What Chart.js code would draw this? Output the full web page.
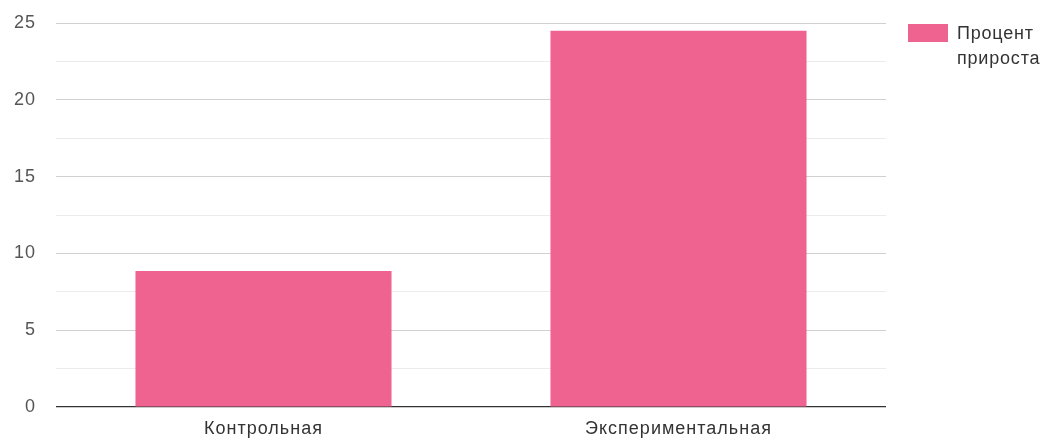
<!DOCTYPE html>
<html>
<head>
<meta charset="utf-8">
<script src="https://cdn.jsdelivr.net/npm/chart.js@4/dist/chart.umd.min.js"></script>
<style>
html,body{margin:0;padding:0;background:#fff;}
#wrap{width:1043px;height:441px;position:relative;}
</style>
</head>
<body>
<div id="wrap"><canvas id="c" width="1043" height="441"></canvas></div>
<script>
const categories = ['Контрольная', 'Экспериментальная'];
const seriesLabel = ['Процент', 'прироста'];
const seriesValues = [8.85, 24.5];
const yTickLabels = [0, 5, 10, 15, 20, 25];

const barColor = '#ef6391';
const FONT = '"Liberation Sans", Arial, sans-serif';

const spacingPlugin = {
  id: 'spacing',
  beforeDraw(chart) { chart.ctx.letterSpacing = '1px'; }
};

const legendPlugin = {
  id: 'sideLegend',
  afterDraw(chart) {
    const ctx = chart.ctx;
    ctx.save();
    ctx.letterSpacing = '0.8px';
    ctx.fillStyle = barColor;
    ctx.fillRect(908, 24, 40, 18);
    ctx.fillStyle = '#333';
    ctx.font = '18px ' + FONT;
    ctx.textBaseline = 'middle';
    ctx.textAlign = 'left';
    seriesLabel.forEach((t, i) => ctx.fillText(t, 957, 34 + i * 25));
    ctx.restore();
  }
};

new Chart(document.getElementById('c'), {
  type: 'bar',
  data: {
    labels: categories,
    datasets: [{
      label: seriesLabel.join(' '),
      data: seriesValues,
      backgroundColor: barColor,
      borderWidth: 0,
      barPercentage: 0.617,
      categoryPercentage: 1.0
    }]
  },
  options: {
    responsive: false,
    animation: false,
    layout: { padding: { top: 23, right: 157, bottom: 0, left: 0 } },
    plugins: { legend: { display: false }, tooltip: { enabled: false } },
    scales: {
      x: {
        grid: { display: false, drawTicks: false },
        border: { display: false },
        ticks: { color: '#333', font: { family: FONT, size: 18 }, padding: 11, maxRotation: 0 },
        afterFit(s) { s.height = 34; s.paddingLeft = 0; s.paddingRight = 0; }
      },
      y: {
        min: 0, max: 25,
        afterBuildTicks(s) {
          const t = [];
          for (let v = 0; v <= 25; v += 2.5) t.push({ value: v });
          s.ticks = t;
        },
        grid: {
          drawTicks: false,
          color: (c) => c.tick.value === 0 ? '#333' : (yTickLabels.includes(c.tick.value) ? '#d0d0d0' : '#ececec'),
          lineWidth: (c) => c.tick.value === 0 ? 1.2 : 1
        },
        border: { display: false },
        ticks: {
          color: '#555',
          font: { family: FONT, size: 18 },
          padding: 20,
          callback: (v) => yTickLabels.includes(v) ? String(v) : ''
        },
        afterFit(s) { s.width = 56; s.paddingTop = 0; s.paddingBottom = 0; }
      }
    }
  },
  plugins: [spacingPlugin, legendPlugin]
});
</script>
</body>
</html>
